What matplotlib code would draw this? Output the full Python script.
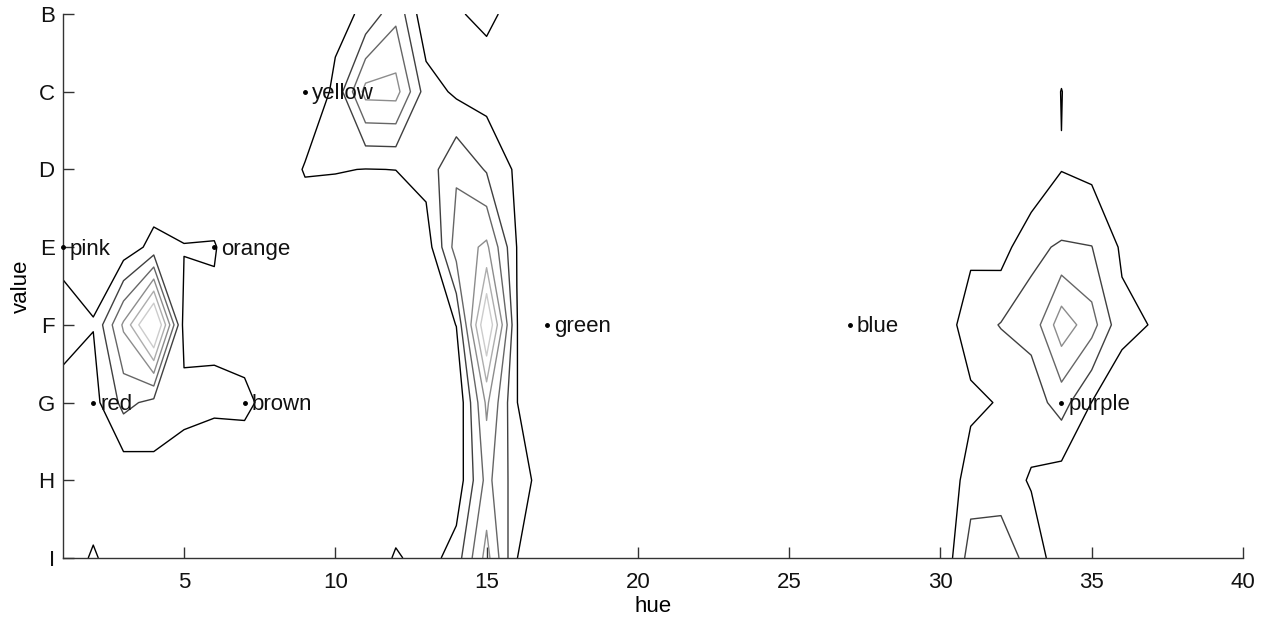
import numpy as np
import matplotlib.pyplot as plt

plt.rcParams['font.family'] = ['Liberation Sans', 'DejaVu Sans']

hues = np.arange(1, 41)
value_labels = ['B', 'C', 'D', 'E', 'F', 'G', 'H', 'I']

# grid values per value row, keyed by hue (missing hues are 0)
row_B = {10: 0.7, 11: 1.17, 12: 2.74, 13: 0.22, 14: 0.93, 15: 1.17, 16: 0.73, 34: 0.3}
row_C = {10: 1.24, 11: 4.35, 12: 4.4, 13: 1.5, 14: 0.81, 15: 0.58, 34: 1.03}
row_D = {9: 1.11, 10: 1.05, 11: 0.98, 12: 1.01, 13: 1.42, 14: 2.86, 15: 1.9, 16: 0.82,
         34: 0.97, 35: 0.75}
row_E = {1: 0.35, 2: 0.68, 3: 0.35, 4: 1.35, 5: 1.05, 6: 1.09, 10: 0.2, 13: 0.42,
         14: 3.45, 15: 4.21, 16: 0.98, 31: 0.77, 32: 0.55, 33: 1.81, 34: 2.1, 35: 2.02,
         36: 0.85}
row_F = {1: 1.9, 2: 1.036, 3: 4.17, 4: 7.8, 5: 0.63, 6: 0.73, 7: 0.36, 13: 0.2, 14: 1.02,
         15: 7.2, 16: 1.02, 30: 0.37, 31: 1.54, 32: 2.05, 33: 2.32, 34: 4.6, 35: 3.41,
         36: 1.24, 37: 0.96}
row_G = {1: 0.17, 2: 0.63, 3: 2.3, 4: 1.7, 5: 1.3, 6: 1.25, 7: 1.3, 8: 0.42, 13: 0.1,
         14: 0.05, 15: 4.2, 16: 1.02, 30: 0.2, 31: 0.78, 32: 1.08, 33: 1.5, 34: 2.43,
         35: 0.98, 36: 0.49}
row_H = {3: 0.24, 4: 0.59, 5: 0.44, 13: 0.1, 14: 0.3, 15: 3.33, 16: 1.45, 17: 0.53,
         30: 0.07, 31: 1.5, 32: 1.5, 33: 0.9, 34: 0.53}
row_I = {2: 1.2, 12: 1.15, 13: 0.5, 14: 1.5, 15: 4.37, 16: 1.02, 31: 2.5, 32: 2.6,
         33: 1.6, 34: 0.4}

levels = [1, 2, 3, 4, 5, 6]
level_grays = ['0.0', '0.25', '0.4', '0.55', '0.68', '0.8']

names = ['pink', 'orange', 'yellow', 'red', 'brown', 'green', 'blue', 'purple']
name_hues = [1, 6, 9, 2, 7, 17, 27, 34]
name_values = ['E', 'E', 'C', 'G', 'G', 'F', 'F', 'G']


def to_row(d):
    r = np.zeros(len(hues))
    for h, v in d.items():
        r[h - 1] = v
    return r


Z = np.vstack([to_row(r) for r in
               [row_B, row_C, row_D, row_E, row_F, row_G, row_H, row_I]])
rows = np.arange(len(value_labels))

fig = plt.figure(figsize=(12.66, 6.17), dpi=100)
ax = fig.add_axes([63 / 1266, 1 - 558 / 617, (1243 - 63) / 1266, (558 - 14) / 617])

ax.contour(hues, rows, Z, levels=levels, colors=level_grays, linewidths=1.0)

py = [value_labels.index(v) for v in name_values]
ax.plot(name_hues, py, 'o', color='black', markersize=2.5, clip_on=False, zorder=5)
for n, h, y in zip(names, name_hues, py):
    ax.annotate(n, (h, y), xytext=(5, -1.5), textcoords='offset points',
                va='center', ha='left', fontsize=16, color='#111111')

ax.set_xlim(1, 40)
ax.set_ylim(len(value_labels) - 1, 0)
ax.set_yticks(rows)
ax.set_yticklabels(value_labels)
ax.set_xticks([5, 10, 15, 20, 25, 30, 35, 40])

for s in ['top', 'right']:
    ax.spines[s].set_visible(False)
for s in ['left', 'bottom']:
    ax.spines[s].set_color('#333333')
    ax.spines[s].set_linewidth(1.0)

ax.tick_params(direction='in', length=8, width=1, colors='#333333',
               labelcolor='#111111', labelsize=16)
ax.tick_params(axis='x', pad=10)
ax.tick_params(axis='y', pad=6)
ax.set_xlabel('hue', fontsize=16, labelpad=2)
ax.set_ylabel('value', fontsize=16, labelpad=4)

fig.savefig('out.png', dpi=100)
